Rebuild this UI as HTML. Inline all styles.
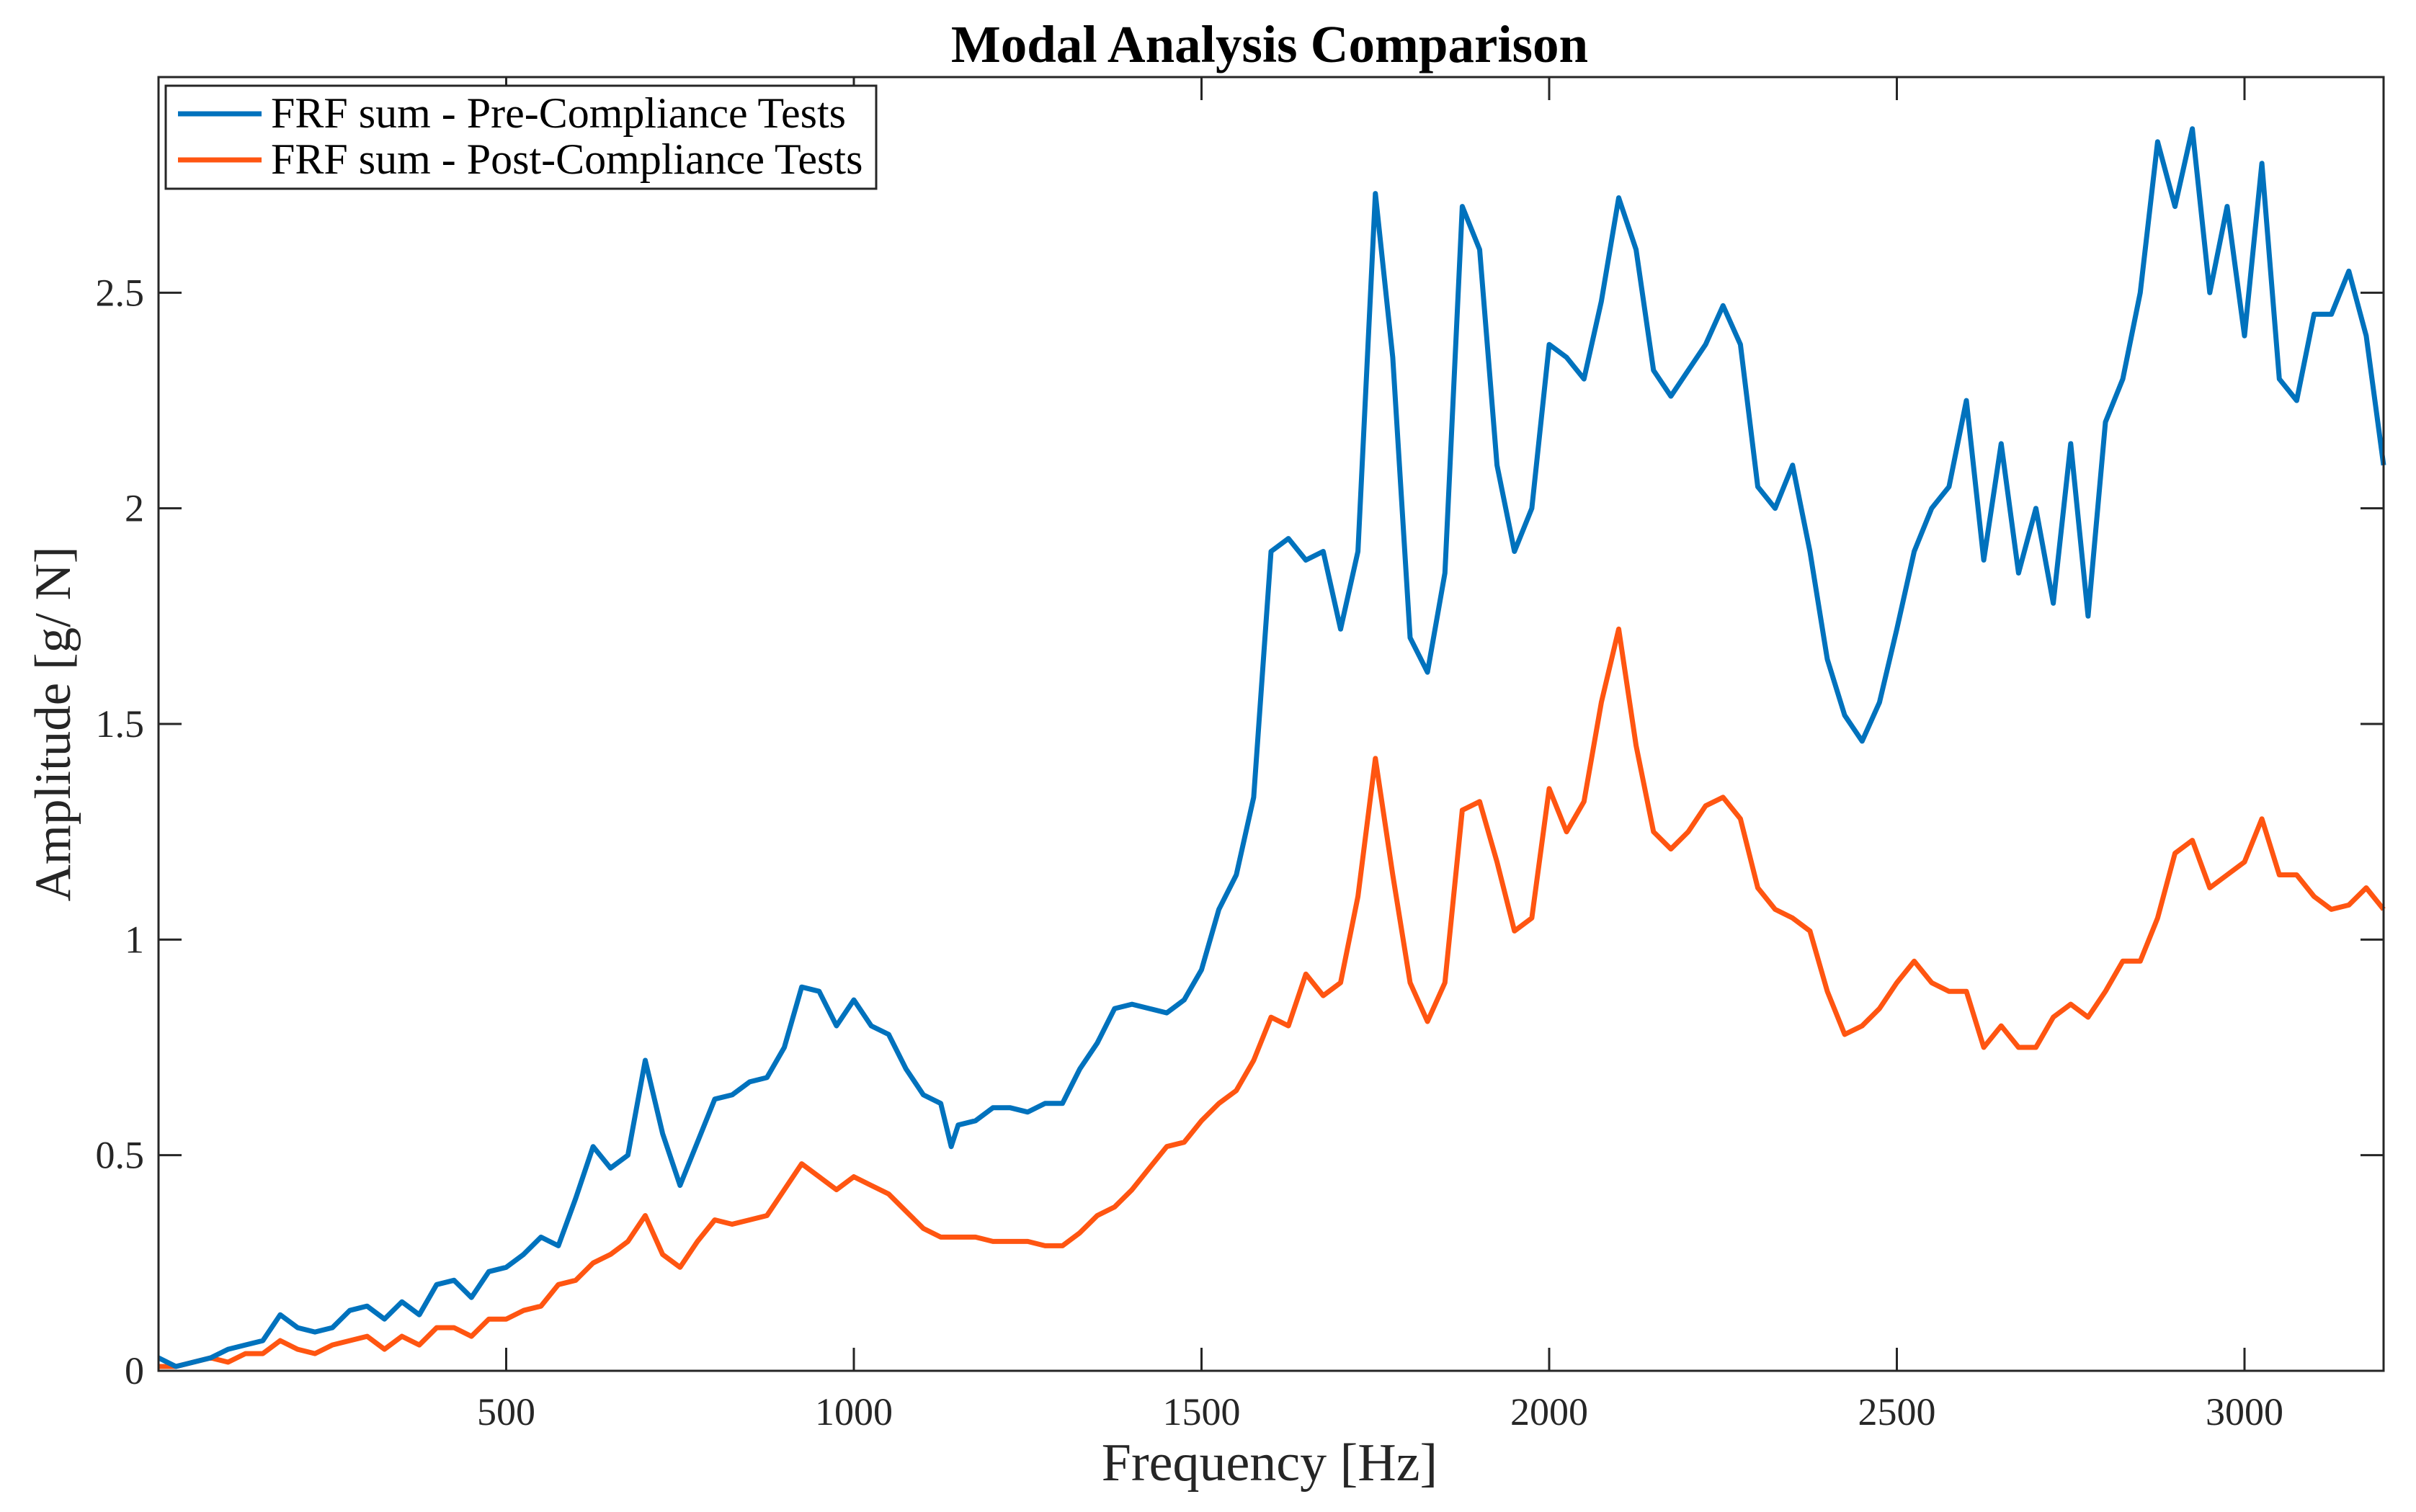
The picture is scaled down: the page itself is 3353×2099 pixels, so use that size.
<!DOCTYPE html>
<html><head><meta charset="utf-8"><style>
html,body{margin:0;padding:0;background:#fff;}
svg{display:block;font-family:"Liberation Serif",serif;}
</style></head><body>
<svg id="chart" width="3353" height="2099" viewBox="0 0 3353 2099" xmlns="http://www.w3.org/2000/svg">
<rect width="3353" height="2099" fill="#fff"/>
<text x="1762" y="86" text-anchor="middle" font-size="73" font-weight="bold">Modal Analysis Comparison</text>
<g id="ticks"></g>
<g id="plot"></g>
<rect x="220" y="107" width="3088" height="1796" fill="none" stroke="#262626" stroke-width="3"/>
<text x="1762" y="2055" text-anchor="middle" font-size="74" fill="#262626">Frequency [Hz]</text>
<text transform="translate(97,1005) rotate(-90)" text-anchor="middle" font-size="71" fill="#262626">Amplitude [g/ N]</text>
<g>
<rect x="230" y="119" width="986" height="143" fill="#fff" stroke="#262626" stroke-width="3"/>
<line x1="247" y1="158" x2="363" y2="158" stroke="#0072BD" stroke-width="7"/>
<text x="376" y="177" font-size="60">FRF sum - Pre-Compliance Tests</text>
<line x1="247" y1="222" x2="363" y2="222" stroke="#FF5511" stroke-width="7"/>
<text x="376" y="241" font-size="60">FRF sum - Post-Compliance Tests</text>
</g>
</svg>
<script>
const freqs = [0,25,50,75,100,125,150,175,200,225,250,275,300,325,350,375,400,425,450,475,500,525,550,575,600,625,650,675,700,725,750,775,800,825,850,875,900,925,950,975,1000,1025,1050,1075,1100,1125,1140,1150,1175,1200,1225,1250,1275,1300,1325,1350,1375,1400,1425,1450,1475,1500,1525,1550,1575,1600,1625,1650,1675,1700,1725,1750,1775,1800,1825,1850,1875,1900,1925,1950,1975,2000,2025,2050,2075,2100,2125,2150,2175,2200,2225,2250,2275,2300,2325,2350,2375,2400,2425,2450,2475,2500,2525,2550,2575,2600,2625,2650,2675,2700,2725,2750,2775,2800,2825,2850,2875,2900,2925,2950,2975,3000,3025,3050,3075,3100,3125,3150,3175,3200];
const preValues = [0.03,0.01,0.02,0.03,0.05,0.06,0.07,0.13,0.10,0.09,0.10,0.14,0.15,0.12,0.16,0.13,0.20,0.21,0.17,0.23,0.24,0.27,0.31,0.29,0.40,0.52,0.47,0.50,0.72,0.55,0.43,0.53,0.63,0.64,0.67,0.68,0.75,0.89,0.88,0.80,0.86,0.80,0.78,0.70,0.64,0.62,0.52,0.57,0.58,0.61,0.61,0.60,0.62,0.62,0.70,0.76,0.84,0.85,0.84,0.83,0.86,0.93,1.07,1.15,1.33,1.90,1.93,1.88,1.90,1.72,1.90,2.73,2.35,1.70,1.62,1.85,2.70,2.60,2.10,1.90,2.00,2.38,2.35,2.30,2.48,2.72,2.60,2.32,2.26,2.32,2.38,2.47,2.38,2.05,2.00,2.10,1.90,1.65,1.52,1.46,1.55,1.72,1.90,2.00,2.05,2.25,1.88,2.15,1.85,2.00,1.78,2.15,1.75,2.20,2.30,2.50,2.85,2.70,2.88,2.50,2.70,2.40,2.80,2.30,2.25,2.45,2.45,2.55,2.40,2.10];
const postValues = [0.01,0.01,0.02,0.03,0.02,0.04,0.04,0.07,0.05,0.04,0.06,0.07,0.08,0.05,0.08,0.06,0.10,0.10,0.08,0.12,0.12,0.14,0.15,0.20,0.21,0.25,0.27,0.30,0.36,0.27,0.24,0.30,0.35,0.34,0.35,0.36,0.42,0.48,0.45,0.42,0.45,0.43,0.41,0.37,0.33,0.31,0.31,0.31,0.31,0.30,0.30,0.30,0.29,0.29,0.32,0.36,0.38,0.42,0.47,0.52,0.53,0.58,0.62,0.65,0.72,0.82,0.80,0.92,0.87,0.90,1.10,1.42,1.15,0.90,0.81,0.90,1.30,1.32,1.18,1.02,1.05,1.35,1.25,1.32,1.55,1.72,1.45,1.25,1.21,1.25,1.31,1.33,1.28,1.12,1.07,1.05,1.02,0.88,0.78,0.80,0.84,0.90,0.95,0.90,0.88,0.88,0.75,0.80,0.75,0.75,0.82,0.85,0.82,0.88,0.95,0.95,1.05,1.20,1.23,1.12,1.15,1.18,1.28,1.15,1.15,1.10,1.07,1.08,1.12,1.07];
const xTicks = [500,1000,1500,2000,2500,3000];
const yTicks = [0,0.5,1,1.5,2,2.5];
const yTickLabels = ["0","0.5","1","1.5","2","2.5"];

const NS = "http://www.w3.org/2000/svg";
const L = 220, R = 3308, T = 107, B = 1903, XMAX = 3200, YMAX = 3;
function xs(f){ return L + (f / XMAX) * (R - L); }
function ys(v){ return B - (v / YMAX) * (B - T); }

const ticks = document.getElementById('ticks');
xTicks.forEach(function(t){
  [[B, B-32],[T, T+32]].forEach(function(p){
    const ln = document.createElementNS(NS,'line');
    
    
    ln.setAttribute('x1', xs(t)); ln.setAttribute('x2', xs(t));
    ln.setAttribute('y1', p[0]); ln.setAttribute('y2', p[1]);
    ln.setAttribute('stroke', '#262626'); ln.setAttribute('stroke-width', '3');
    ticks.appendChild(ln);
  });
  const tx = document.createElementNS(NS,'text');
  
  
  tx.setAttribute('x', xs(t)); tx.setAttribute('y', 1978);
  tx.setAttribute('text-anchor', 'middle'); tx.setAttribute('font-size', '54'); tx.setAttribute('fill', '#262626');
  tx.textContent = String(t);
  ticks.appendChild(tx);
});
yTicks.forEach(function(t, i){
  [[L, L+32],[R, R-32]].forEach(function(p){
    const ln = document.createElementNS(NS,'line');
    
    
    ln.setAttribute('y1', ys(t)); ln.setAttribute('y2', ys(t));
    ln.setAttribute('x1', p[0]); ln.setAttribute('x2', p[1]);
    ln.setAttribute('stroke', '#262626'); ln.setAttribute('stroke-width', '3');
    ticks.appendChild(ln);
  });
  const tx = document.createElementNS(NS,'text');
  
  
  tx.setAttribute('x', 200); tx.setAttribute('y', ys(t) + 18);
  tx.setAttribute('text-anchor', 'end'); tx.setAttribute('font-size', '54'); tx.setAttribute('fill', '#262626');
  tx.textContent = yTickLabels[i];
  ticks.appendChild(tx);
});

const plot = document.getElementById('plot');
function drawLine(vals, color, name){
  let d = '';
  vals.forEach(function(v, i){ d += (i ? 'L' : 'M') + xs(freqs[i]).toFixed(1) + ',' + ys(v).toFixed(1); });
  const p = document.createElementNS(NS,'path');
  
  
  p.setAttribute('d', d);
  p.setAttribute('fill', 'none'); p.setAttribute('stroke', color);
  p.setAttribute('stroke-width', '7'); p.setAttribute('stroke-linejoin', 'round');
  plot.appendChild(p);
}
drawLine(postValues, '#FF5511', 'post-compliance-line');
drawLine(preValues, '#0072BD', 'pre-compliance-line');
</script>
</body></html>
